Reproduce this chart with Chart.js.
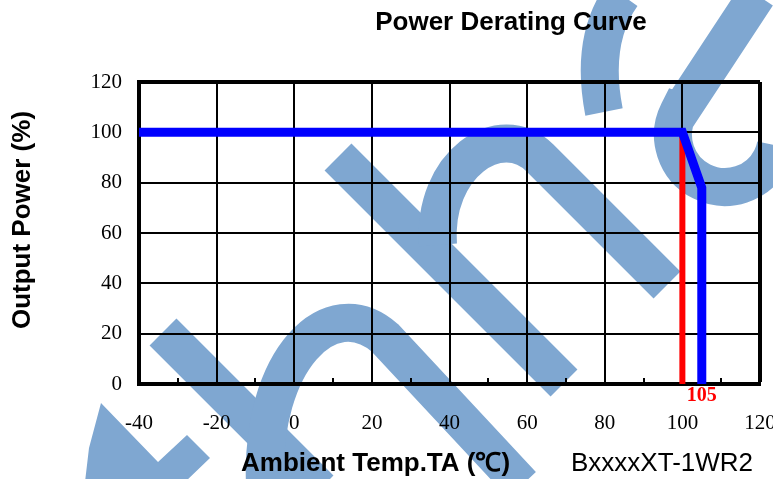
<!DOCTYPE html>
<html>
<head>
<meta charset="utf-8">
<script src="https://cdn.jsdelivr.net/npm/chart.js@4.4.1/dist/chart.umd.min.js"></script>
<style>
  html, body { margin: 0; padding: 0; background: #fff; }
  #wrap { position: relative; width: 773px; height: 479px; }
</style>
</head>
<body>
<div id="wrap"><canvas id="derating"></canvas></div>
<script>
// derating curve (blue) and 100°C limit line (red)
const tempX = [-40, 100, 105, 105]
const powerY = [100, 100, 78, 0]
const limitX = [100, 100]
const limitY = [100, 0]
const minorTicks = [-30, -10, 10, 30, 50, 70, 90, 110]
const xRange = [-40, 120]
const yRange = [0, 120]
const markValue = 105

const titleText = 'Power Derating Curve'
const yTitle = 'Output Power (%)'
const xTitle = 'Ambient Temp.TA (℃)'
const modelText = 'BxxxxXT-1WR2'

const toPoints = (xs, ys) => xs.map((x, i) => ({ x, y: ys[i] }))

// faint logo behind the plot
const watermark = {
  id: 'watermark',
  beforeDraw(chart) {
    const c = chart.ctx
    c.save()
    c.strokeStyle = '#7fa7d1'
    c.fillStyle = '#7fa7d1'
    c.lineWidth = 38
    c.lineCap = 'butt'
    c.beginPath(); c.moveTo(163, 332); c.lineTo(320, 489); c.stroke()
    c.beginPath(); c.moveTo(338, 157); c.lineTo(564, 383); c.stroke()
    c.beginPath(); c.moveTo(265, 485); c.bezierCurveTo(260, 360, 330, 290, 385, 338); c.lineTo(522, 485); c.stroke()
    c.beginPath(); c.moveTo(438, 245); c.bezierCurveTo(432, 165, 500, 118, 540, 158); c.lineTo(667, 285); c.stroke()
    c.beginPath(); c.moveTo(604, 112); c.quadraticCurveTo(590, 40, 622, -5); c.stroke()
    c.beginPath(); c.moveTo(757, -5); c.lineTo(680, 112); c.arc(725, 135, 52, 3.61, 0.2, true); c.stroke()
    c.beginPath()
    c.moveTo(101, 403); c.lineTo(158, 462); c.lineTo(187, 435); c.lineTo(210, 458)
    c.lineTo(185, 482); c.lineTo(85, 482); c.lineTo(89, 448); c.closePath(); c.fill()
    c.restore()
  }
}

const extras = {
  id: 'extras',
  beforeDatasetsDraw(chart) {
    const c = chart.ctx
    const xs = chart.scales.x
    const bottom = chart.chartArea.bottom
    c.save()
    c.strokeStyle = '#000'
    c.lineWidth = 2
    minorTicks.forEach(v => {
      const px = Math.round(xs.getPixelForValue(v))
      c.beginPath(); c.moveTo(px, bottom); c.lineTo(px, bottom - 6); c.stroke()
    })
    c.restore()
  },
  afterDraw(chart) {
    const c = chart.ctx
    c.save()
    c.fillStyle = '#000'
    c.textAlign = 'center'
    c.textBaseline = 'alphabetic'
    c.font = 'bold 26px "Liberation Sans", Arial, sans-serif'
    c.fillText(titleText, 511, 30)

    c.textAlign = 'left'
    c.font = 'bold 26px "Liberation Sans", Arial, sans-serif'
    c.fillText(xTitle, 241, 471)
    c.font = '26px "Liberation Sans", Arial, sans-serif'
    c.fillText(modelText, 571, 471)

    c.translate(23, 220)
    c.rotate(-Math.PI / 2)
    c.textAlign = 'center'
    c.textBaseline = 'middle'
    c.font = 'bold 26px "Liberation Sans", Arial, sans-serif'
    c.fillText(yTitle, 0, 0)
    c.restore()

    c.save()
    c.fillStyle = '#ff0000'
    c.textAlign = 'center'
    c.font = 'bold 20px "Liberation Serif", "Times New Roman", serif'
    c.fillText(String(markValue), chart.scales.x.getPixelForValue(markValue), 401)
    c.restore()
  }
}

const edgeWidth = (max) => (ctx) => (ctx.tick && ctx.tick.value === max ? 4 : 2)

new Chart(document.getElementById('derating').getContext('2d'), {
  type: 'scatter',
  data: {
    datasets: [
      { data: toPoints(tempX, powerY), showLine: true, borderColor: '#0000ff', borderWidth: 9, pointRadius: 0, borderJoinStyle: 'miter' },
      { data: toPoints(limitX, limitY), showLine: true, borderColor: '#ff0000', borderWidth: 6, pointRadius: 0 }
    ]
  },
  options: {
    responsive: true,
    maintainAspectRatio: false,
    animation: false,
    layout: { padding: { left: 0, right: 13, top: 82, bottom: 0 } },
    plugins: { legend: { display: false }, tooltip: { enabled: false } },
    scales: {
      x: {
        type: 'linear',
        min: xRange[0],
        max: xRange[1],
        border: { color: '#000', width: 4 },
        grid: { color: '#000', lineWidth: edgeWidth(xRange[1]), drawTicks: false },
        ticks: {
          stepSize: 20,
          padding: 27,
          color: '#000',
          font: { family: '"Liberation Serif", "Times New Roman", serif', size: 21 }
        },
        afterFit: (s) => { s.height = 95; s.paddingLeft = 0; s.paddingRight = 0 }
      },
      y: {
        type: 'linear',
        min: yRange[0],
        max: yRange[1],
        border: { color: '#000', width: 4 },
        grid: { color: '#000', lineWidth: edgeWidth(yRange[1]), drawTicks: false },
        ticks: {
          stepSize: 20,
          padding: 17,
          color: '#000',
          font: { family: '"Liberation Serif", "Times New Roman", serif', size: 21 }
        },
        afterFit: (s) => { s.width = 139 }
      }
    }
  },
  plugins: [watermark, extras]
})
</script>
</body>
</html>
